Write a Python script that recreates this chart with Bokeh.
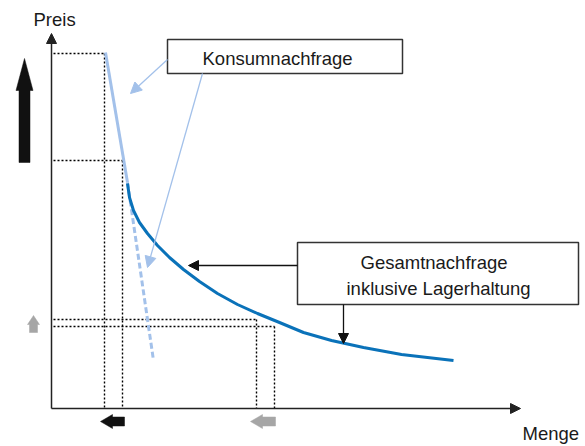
import numpy as np
from bokeh.plotting import figure
from bokeh.models import Range1d, Arrow, NormalHead, Label
from bokeh.embed import file_html
from bokeh.resources import INLINE

# ---- data (Menge, Preis) in schematic units ----
konsum_menge = [54, 76, 102]
konsum_preis = [356, 226, 48]

gesamt_menge = [76, 78, 82, 88, 96, 106, 118, 132, 148, 166, 186, 206, 228, 252, 280, 312, 350, 402]
gesamt_preis = [225, 211, 198, 186, 175, 163, 151, 139, 127, 115, 104, 95, 86, 76, 68, 61, 54, 48]

preis_levels = [355, 248, 89, 82]
menge_levels = [53, 71, 205, 223]

axis_labels = ["Preis", "Menge"]
box_labels = ["Konsumnachfrage", "Gesamtnachfrage", "inklusive Lagerhaltung"]

LIGHT = "#a3c1ea"
DARK = "#0a72b9"
FONT = "Liberation Sans"

p = figure(width=585, height=446, x_range=Range1d(-51, 534), y_range=Range1d(-38, 408),
           output_backend="svg", toolbar_location=None, min_border=0)
p.axis.visible = False
p.grid.visible = False
p.outline_line_color = None
p.min_border_left = p.min_border_right = p.min_border_top = p.min_border_bottom = 0

# dotted guide lines
for pr, mg in zip(preis_levels, menge_levels):
    p.line([2, mg], [pr, pr], line_color="#000000", line_width=1.4, line_dash="2 2")
    p.line([mg, mg], [pr, 0], line_color="#000000", line_width=1.4, line_dash="2 2")

# axes with arrow heads
p.add_layout(Arrow(end=NormalHead(size=10, fill_color="#222222", line_color="#222222"),
                   x_start=0, y_start=0, x_end=0, y_end=375, line_color="#222222", line_width=1.5))
p.add_layout(Arrow(end=NormalHead(size=10, fill_color="#222222", line_color="#222222"),
                   x_start=0, y_start=0, x_end=469, y_end=0, line_color="#222222", line_width=1.5))

# Konsumnachfrage: solid then dashed
p.line(konsum_menge[:2], konsum_preis[:2], line_color=LIGHT, line_width=3)
p.line(konsum_menge[1:], konsum_preis[1:], line_color=LIGHT, line_width=3, line_dash="6 3")

# Gesamtnachfrage curve
p.line(gesamt_menge, gesamt_preis, line_color=DARK, line_width=3, line_join="round")

# boxes
p.quad(left=[116, 246], right=[351, 527], bottom=[335, 104], top=[369, 166],
       fill_color="white", line_color="#333333", line_width=1.5)

# labels
def lab(x, y, t):
    p.add_layout(Label(x=x, y=y, text=t, text_font=FONT, text_font_size="18.5px",
                       text_color="#1a1a1a", text_baseline="alphabetic", text_align="left"))

lab(-18, 389, axis_labels[0])
lab(471, -25, axis_labels[1])
lab(151, 350, box_labels[0])
lab(309, 146, box_labels[1])
lab(295, 120, box_labels[2])

# pointer arrows
p.add_layout(Arrow(end=NormalHead(size=11, fill_color=LIGHT, line_color=LIGHT),
                   x_start=116, y_start=349, x_end=79, y_end=315, line_color=LIGHT, line_width=1.3))
p.add_layout(Arrow(end=NormalHead(size=11, fill_color=LIGHT, line_color=LIGHT),
                   x_start=151, y_start=335, x_end=96, y_end=141, line_color=LIGHT, line_width=1.3))
p.add_layout(Arrow(end=NormalHead(size=10, fill_color="#111111", line_color="#111111"),
                   x_start=246, y_start=143, x_end=137, y_end=143, line_color="#111111", line_width=1.3))
p.add_layout(Arrow(end=NormalHead(size=10, fill_color="#111111", line_color="#111111"),
                   x_start=292, y_start=104, x_end=292, y_end=65, line_color="#111111", line_width=1.3))

# block arrows
def block_arrow(x0, y0, x1, y1, shaft, head, hlen):
    d = np.array([x1 - x0, y1 - y0], float)
    L = np.hypot(*d)
    u = d / L
    n = np.array([-u[1], u[0]])
    t = np.array([x0, y0], float)
    b = t + u * (L - hlen)
    tip = np.array([x1, y1], float)
    pts = [t + n * shaft / 2, b + n * shaft / 2, b + n * head / 2, tip,
           b - n * head / 2, b - n * shaft / 2, t - n * shaft / 2]
    return [q[0] for q in pts], [q[1] for q in pts]

for (x0, y0, x1, y1, sw, hw, hl, col) in [
        (-27, 246, -27, 350, 11, 17, 32, "#111111"),
        (-18, 76, -18, 93, 8, 12, 9, "#a6a6a6"),
        (73, -13, 49, -13, 9, 14, 12, "#111111"),
        (224, -13, 199, -13, 9, 14, 12, "#a6a6a6")]:
    xs, ys = block_arrow(x0, y0, x1, y1, sw, hw, hl)
    p.patch(xs, ys, fill_color=col, line_color=col, line_width=0.5)

open("out.html", "w").write(file_html(p, INLINE))
